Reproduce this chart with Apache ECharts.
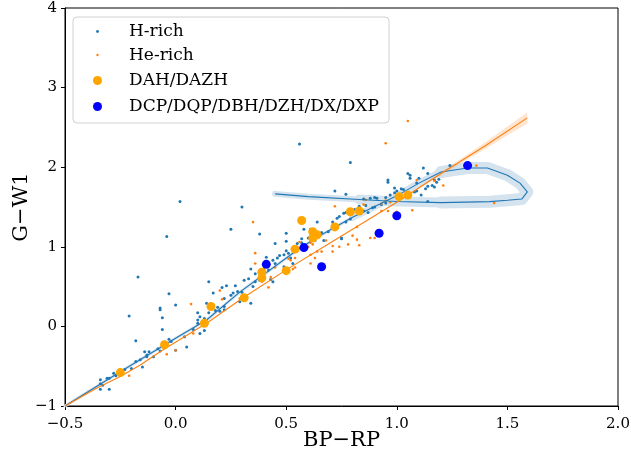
<!DOCTYPE html>
<html><head><meta charset="utf-8">
<script src="https://cdn.jsdelivr.net/npm/echarts@6/dist/echarts.min.js"></script>
<style>html,body{margin:0;padding:0;background:#fff}#c{width:631px;height:457px}</style>
</head><body><div id="c"></div>
<script>
// ---- data ----
const hRich = [[-0.34,-0.79],[-0.30,-0.79],[-0.34,-0.72],[-0.33,-0.74],[-0.34,-0.67],[-0.31,-0.65],[-0.30,-0.65],[-0.27,-0.62],[-0.28,-0.59],[-0.23,-0.54],[-0.20,-0.53],[-0.15,-0.51],[-0.18,-0.44],[-0.16,-0.42],[-0.18,-0.18],[-0.13,-0.38],[-0.13,-0.36],[-0.10,-0.38],[-0.14,-0.32],[-0.12,-0.32],[-0.08,-0.28],[-0.07,-0.31],[-0.02,-0.19],[-0.03,-0.16],[0.00,-0.30],[0.05,-0.26],[0.04,-0.13],[0.08,-0.04],[0.10,0.04],[0.11,-0.09],[0.13,-0.05],[0.15,0.17],[0.10,0.17],[0.11,0.12],[0.13,0.10],[0.10,0.08],[-0.06,-0.04],[-0.06,0.11],[-0.07,0.21],[-0.07,0.23],[0.00,0.27],[-0.03,0.41],[-0.21,0.13],[-0.17,0.62],[0.14,0.29],[0.19,0.24],[0.20,0.19],[0.22,0.21],[0.22,0.25],[0.18,0.20],[0.22,0.35],[0.26,0.42],[0.28,0.44],[0.29,0.31],[0.25,0.39],[0.30,0.43],[0.34,0.29],[0.15,0.56],[0.17,0.42],[0.21,0.49],[0.23,0.51],[0.27,0.51],[0.36,0.66],[0.44,0.56],[0.36,0.56],[0.35,0.50],[0.38,0.58],[0.42,0.71],[0.43,0.59],[0.34,0.72],[0.45,0.79],[0.46,0.86],[0.49,0.90],[0.51,0.92],[0.53,0.96],[0.55,0.98],[0.52,0.86],[0.53,0.79],[0.49,0.75],[0.41,0.87],[0.33,0.60],[0.31,0.58],
[0.38,1.16],[0.45,1.04],[0.50,1.07],[0.50,1.17],[-0.04,1.13],[0.02,1.57],[0.30,1.50],[0.25,1.22],[0.56,2.29],[0.58,1.22],[0.61,1.22],[0.64,1.31],[0.66,1.18],[0.69,1.19],[0.71,1.31],[0.75,1.10],[0.57,1.10],[0.57,1.05],[0.63,1.08],[0.67,1.08],[0.76,1.42],[0.77,1.43],[0.78,1.43],[0.81,1.47],[0.83,1.51],[0.86,1.52],[0.87,1.43],[0.89,1.49],[0.90,1.50],[0.93,1.53],[0.95,1.55],[0.79,1.35],[0.77,1.31],[0.73,1.36],[0.74,1.38],[0.72,1.70],[0.77,1.66],[0.79,2.06],[0.96,1.81],[0.96,1.84],[0.99,1.74],[0.88,1.61],[0.91,1.61],[0.75,1.11],[0.44,0.83],[0.47,0.89],[0.50,0.95],[0.55,1.04],[0.60,1.11],[0.62,1.14],
[1.05,1.92],[1.06,1.86],[1.10,1.86],[1.14,1.92],[1.17,1.84],[1.18,1.81],[1.19,1.85],[1.16,1.77],[1.17,1.75],[1.08,1.69],[1.09,1.70],[1.13,1.73],[1.14,1.76],[1.09,1.80],[1.03,1.72],[1.02,1.73],[1.00,1.70],[0.99,1.68],[1.11,1.65],[1.14,1.57],[0.85,1.60],[0.90,1.62],[0.95,1.62],[0.97,1.65],[0.85,1.45],[1.12,1.99],[1.06,1.90],[1.24,2.02]];

const heRich = [[-0.21,-0.62],[-0.04,-0.35],[0.00,-0.30],[0.08,-0.09],[0.07,0.28],[0.20,0.45],[0.21,0.34],[0.36,0.79],[0.42,0.49],[0.54,0.74],[0.51,0.85],[0.52,0.83],[0.39,0.56],[0.29,0.35],[0.32,0.38],[0.35,1.31],[0.36,0.92],[0.72,1.51],[0.85,1.53],[0.68,1.08],[0.71,0.94],[0.74,1.00],[0.80,1.14],[0.82,1.09],[0.83,1.02],[0.90,1.11],[0.93,1.45],[0.96,1.45],[0.61,1.05],[0.62,1.03],[0.64,0.94],[0.66,0.94],[0.61,0.90],[0.63,0.86],[0.61,0.79],[0.54,0.86],[0.53,0.72],[0.45,0.74],[0.40,0.72],[0.43,0.62],[0.95,1.58],[0.97,1.56],[1.00,1.44],[1.05,2.58],[0.95,2.30],[1.36,2.02],[1.44,1.55],[1.21,1.77],[1.17,1.83],[1.09,1.84],[1.07,1.46],[0.93,1.54],[0.86,1.59],[0.82,1.25],[0.78,1.03],[0.71,1.01],[0.88,1.11],[0.56,1.06],[0.60,1.00]];

const dah = [[-0.25,-0.58],[-0.05,-0.23],[0.13,0.04],[0.16,0.25],[0.31,0.36],[0.39,0.68],[0.39,0.61],[0.50,0.70],[0.54,0.97],[0.57,1.33],[0.62,1.19],[0.64,1.15],[0.62,1.11],[0.72,1.25],[0.79,1.44],[0.83,1.45],[1.01,1.63],[1.05,1.65]];

const dcp = [[0.41,0.78],[0.58,0.99],[0.66,0.75],[0.92,1.17],[1.00,1.39],[1.32,2.02]];

const blueFit = [[-0.5,-1.0],[-0.25,-0.57],[0.0,-0.15],[0.14,0.08],[0.29,0.43],[0.55,0.96],[0.64,1.12],[0.8,1.37],[1.0,1.64],[1.1,1.80],[1.2,1.94],[1.32,1.99],[1.41,1.99],[1.5,1.90],[1.557,1.80],[1.59,1.69],[1.565,1.60],[1.5,1.585],[1.42,1.567],[1.2,1.555],[1.0,1.57],[0.83,1.595],[0.6,1.63],[0.45,1.665]];

const orangeFit = [[-0.5,-1.0],[-0.36,-0.78],[-0.25,-0.63],[-0.16,-0.485],[-0.06,-0.30],[0.14,0.04],[0.3,0.35],[0.5,0.71],[0.7,1.05],[1.0,1.56],[1.2,1.92],[1.4,2.27],[1.59,2.62]];

const orangeBandX  = [1.0, 1.1, 1.2, 1.3, 1.4, 1.5, 1.59];
const orangeBandLo = [1.555,1.728,1.90,2.065,2.228,2.40,2.55];
const orangeBandHi = [1.565,1.752,1.94,2.125,2.312,2.51,2.69];

const xTicks = [-0.5, 0.0, 0.5, 1.0, 1.5, 2.0];
const yTicks = [-1, 0, 1, 2, 3, 4];
const legendNames = ['H-rich','He-rich','DAH/DAZH','DCP/DQP/DBH/DZH/DX/DXP'];

// ---- chart ----
const serif = '"DejaVu Serif", serif';
const fmt = v => (v < 0 ? '\u2212' : '') + Math.abs(v).toFixed(1);
const fmtY = v => (v < 0 ? '\u2212' : '') + Math.abs(v).toFixed(0);
const bandColor = '#d5e3ef';
function band(pts, w) {
  return {type:'line', data:pts, showSymbol:false, silent:true, z:1,
    lineStyle:{color:bandColor, width:w, cap:'round', join:'round'}};
}
const chart = echarts.init(document.getElementById('c'), null, {renderer:'canvas'});
const legendRowsY = [31.5, 55, 80.5, 106.5];
const legendMarkers = [
  {r:1.4, c:'#1f77b4'}, {r:1.2, c:'#ff7f0e'}, {r:4.5, c:'#ffa500'}, {r:4.5, c:'#0000ff'}
];
const graphic = [{type:'rect', z:100, shape:{x:73, y:17, width:316, height:106, r:4},
  style:{fill:'rgba(255,255,255,0.8)', stroke:'#d0d0d0', lineWidth:1}}];
legendNames.forEach((n,i)=>{
  graphic.push({type:'circle', z:101, shape:{cx:97.5, cy:legendRowsY[i], r:legendMarkers[i].r},
    style:{fill:legendMarkers[i].c}});
  graphic.push({type:'text', z:101, x:129, y:legendRowsY[i]+0.5,
    style:{text:n, fontSize:17, fontFamily:serif, fill:'#000', verticalAlign:'middle', align:'left'}});
});

chart.setOption({
  animation:false,
  backgroundColor:'#fff',
  grid:{left:65, right:13, top:8, bottom:51, containLabel:false, outerBoundsMode:'none',
    show:true, borderColor:'#000', borderWidth:1, backgroundColor:'transparent'},
  xAxis:{type:'value', min:-0.5, max:2.0, interval:0.5,
    name:'BP\u2212RP', nameLocation:'middle', nameGap:24, nameMoveOverlap:false,
    nameTextStyle:{fontFamily:serif, fontSize:21, color:'#000'},
    axisLine:{onZero:false, lineStyle:{color:'#000'}}, axisTick:{length:4, lineStyle:{color:'#000'}},
    axisLabel:{formatter:fmt, fontFamily:serif, fontSize:15, color:'#000', margin:11},
    splitLine:{show:false}},
  yAxis:{type:'value', min:-1, max:4, interval:1,
    name:'G\u2212W1', nameLocation:'middle', nameGap:33, nameMoveOverlap:false,
    nameTextStyle:{fontFamily:serif, fontSize:21, color:'#000'},
    axisLine:{show:true, onZero:false, lineStyle:{color:'#000'}}, axisTick:{show:true, length:4, lineStyle:{color:'#000'}},
    axisLabel:{formatter:fmtY, fontFamily:serif, fontSize:15, color:'#000', margin:8},
    splitLine:{show:false}},
  graphic: graphic,
  series:[
    band(blueFit.slice(0,9), 3),
    band(blueFit.slice(7,11), 7),
    band(blueFit.slice(10,20), 12),
    band(blueFit.slice(19,22), 10),
    band(blueFit.slice(21,24), 6),
    {type:'custom', silent:true, z:2, data:[[1.3,2.1]],
      renderItem:(params, api)=>{
        const pts=[];
        orangeBandX.forEach((x,i)=>pts.push(api.coord([x, orangeBandHi[i]])));
        for(let i=orangeBandX.length-1;i>=0;i--) pts.push(api.coord([orangeBandX[i], orangeBandLo[i]]));
        return {type:'polygon', shape:{points:pts}, style:{fill:'rgba(255,127,14,0.2)'}};
      }},
    {name:legendNames[0], type:'scatter', data:hRich, symbolSize:3, z:3, itemStyle:{color:'#1f77b4', opacity:1}},
    {name:legendNames[1], type:'scatter', data:heRich, symbolSize:2.6, z:3, itemStyle:{color:'#ff7f0e', opacity:1}},
    {type:'line', data:blueFit, showSymbol:false, z:4, lineStyle:{color:'#1f77b4', width:1.1}},
    {type:'line', data:orangeFit, showSymbol:false, z:4, lineStyle:{color:'#ff7f0e', width:1.1}},
    {name:legendNames[2], type:'scatter', data:dah, symbolSize:9, z:5, itemStyle:{color:'#ffa500', opacity:1}},
    {name:legendNames[3], type:'scatter', data:dcp, symbolSize:9, z:5, itemStyle:{color:'#0000ff', opacity:1}}
  ]
});
</script></body></html>
